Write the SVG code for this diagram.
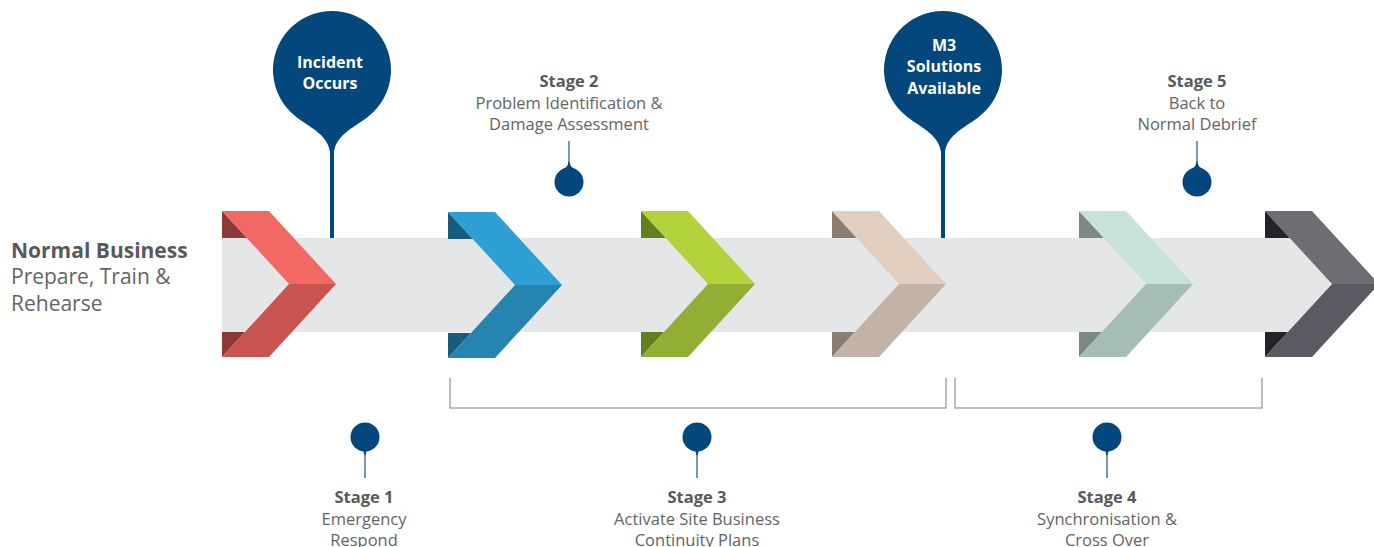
<svg xmlns="http://www.w3.org/2000/svg" width="1374" height="547" viewBox="0 0 1374 547">
<style>
.t{font-family:"Open Sans","Noto Sans","DejaVu Sans",sans-serif;font-size:16.5px;fill:#636466;text-anchor:middle}
.b{font-weight:700;fill:#58595b}
.w{font-family:"Open Sans","Noto Sans","DejaVu Sans",sans-serif;font-size:16px;font-weight:700;fill:#ffffff;text-anchor:middle}
.lt{font-family:"Open Sans","Noto Sans","DejaVu Sans",sans-serif;font-size:21px;fill:#636466}
.pin{fill:#03477c}
.stem{stroke:#2f5f8f;stroke-width:1.3;fill:none}
.br{stroke:#a7a9ac;stroke-width:1.5;fill:none}
</style>
<rect id="band" x="222" y="238" width="1109" height="94" fill="#e5e6e8"/>
<g id="chevron1" transform="translate(222,0)"><polygon points="0,211 25,238 0,238" fill="#8b3a3a"/><polygon points="0,332 23,332 0,357" fill="#8b3a3a"/><polygon points="0,211 47,211 114,284 67,284" fill="#f26964"/><polygon points="67,284 114,284 47,357 0,357" fill="#c9534f"/></g>
<g id="chevron2" transform="translate(448,1)"><polygon points="0,211 25,238 0,238" fill="#175c7c"/><polygon points="0,332 23,332 0,357" fill="#175c7c"/><polygon points="0,211 47,211 114,284 67,284" fill="#2e9fd2"/><polygon points="67,284 114,284 47,357 0,357" fill="#2585b0"/></g>
<g id="chevron3" transform="translate(641,0)"><polygon points="0,211 25,238 0,238" fill="#62801e"/><polygon points="0,332 23,332 0,357" fill="#62801e"/><polygon points="0,211 47,211 114,284 67,284" fill="#b3d33c"/><polygon points="67,284 114,284 47,357 0,357" fill="#92ae34"/></g>
<g id="chevron4" transform="translate(832,0)"><polygon points="0,211 25,238 0,238" fill="#8a7d72"/><polygon points="0,332 23,332 0,357" fill="#8a7d72"/><polygon points="0,211 47,211 114,284 67,284" fill="#e2cebf"/><polygon points="67,284 114,284 47,357 0,357" fill="#c3b3a6"/></g>
<g id="chevron5" transform="translate(1079,0)"><polygon points="0,211 25,238 0,238" fill="#7b8985"/><polygon points="0,332 23,332 0,357" fill="#7b8985"/><polygon points="0,211 47,211 114,284 67,284" fill="#c7e2da"/><polygon points="67,284 114,284 47,357 0,357" fill="#a6bdb7"/></g>
<g id="chevron6" transform="translate(1265,0)"><polygon points="0,211 25,238 0,238" fill="#232428"/><polygon points="0,332 23,332 0,357" fill="#232428"/><polygon points="0,211 47,211 114,284 67,284" fill="#6d6e74"/><polygon points="67,284 114,284 47,357 0,357" fill="#5a5b62"/></g>

<g id="connectors">
<path class="br" d="M450,378 V408 H946 V378"/>
<path class="br" d="M955,378 V408 H1262 V378"/>
<line class="stem" x1="569" y1="141" x2="569" y2="164"/>
<line class="stem" x1="1197" y1="141" x2="1197" y2="164"/>
<line class="stem" x1="365" y1="451" x2="365" y2="478"/>
<line class="stem" x1="697" y1="451" x2="697" y2="478"/>
<line class="stem" x1="1107" y1="451" x2="1107" y2="478"/>
</g>

<g id="incident">
<path class="pin" d="M295.7,116.5 A59,59 0 1 1 368.3,116.5 C357,126 336,134 334,152 L334,238 L330,238 L330,152 C328,134 307,126 295.7,116.5 Z"/>
<text class="w" x="330" y="68">Incident</text>
<text class="w" x="330" y="89">Occurs</text>
</g>
<g id="m3">
<path class="pin" d="M906.7,116.5 A59,59 0 1 1 979.3,116.5 C968,126 947,134 945,152 L945,238 L941,238 L941,152 C939,134 918,126 906.7,116.5 Z"/>
<text class="w" x="944" y="51">M3</text>
<text class="w" x="944" y="72">Solutions</text>
<text class="w" x="944" y="94">Available</text>
</g>

<g id="normal">
<text class="lt" x="11" y="258" style="font-weight:700;fill:#58595b">Normal Business</text>
<text class="lt" x="11" y="284">Prepare, Train &amp;</text>
<text class="lt" x="11" y="311">Rehearse</text>
</g>

<g id="stage2">
<circle class="pin" cx="569" cy="182" r="14.5"/>
<path class="pin" d="M568.3,162 C568.3,166 565,168.5 561.5,170 L576.5,170 C573,168.5 569.7,166 569.7,162 Z"/>
<text class="t b" x="569" y="87">Stage 2</text>
<text class="t" x="569" y="109">Problem Identification &amp;</text>
<text class="t" x="569" y="130">Damage Assessment</text>
</g>
<g id="stage5">
<circle class="pin" cx="1197" cy="182" r="14.5"/>
<path class="pin" d="M1196.3,162 C1196.3,166 1193,168.5 1189.5,170 L1204.5,170 C1201,168.5 1197.7,166 1197.7,162 Z"/>
<text class="t b" x="1197" y="87">Stage 5</text>
<text class="t" x="1197" y="109">Back to</text>
<text class="t" x="1197" y="130">Normal Debrief</text>
</g>
<g id="stage1">
<circle class="pin" cx="365" cy="437" r="14.5"/>
<path class="pin" d="M364.3,455 C364.3,451 361,448.5 357.5,447 L372.5,447 C369,448.5 365.7,451 365.7,455 Z"/>
<text class="t b" x="364" y="503">Stage 1</text>
<text class="t" x="364" y="525">Emergency</text>
<text class="t" x="364" y="546">Respond</text>
</g>
<g id="stage3">
<circle class="pin" cx="697" cy="437" r="14.5"/>
<path class="pin" d="M696.3,455 C696.3,451 693,448.5 689.5,447 L704.5,447 C701,448.5 697.7,451 697.7,455 Z"/>
<text class="t b" x="697" y="503">Stage 3</text>
<text class="t" x="697" y="525">Activate Site Business</text>
<text class="t" x="697" y="546">Continuity Plans</text>
</g>
<g id="stage4">
<circle class="pin" cx="1107" cy="437" r="14.5"/>
<path class="pin" d="M1106.3,455 C1106.3,451 1103,448.5 1099.5,447 L1114.5,447 C1111,448.5 1107.7,451 1107.7,455 Z"/>
<text class="t b" x="1107" y="503">Stage 4</text>
<text class="t" x="1107" y="525">Synchronisation &amp;</text>
<text class="t" x="1107" y="546">Cross Over</text>
</g>
</svg>
